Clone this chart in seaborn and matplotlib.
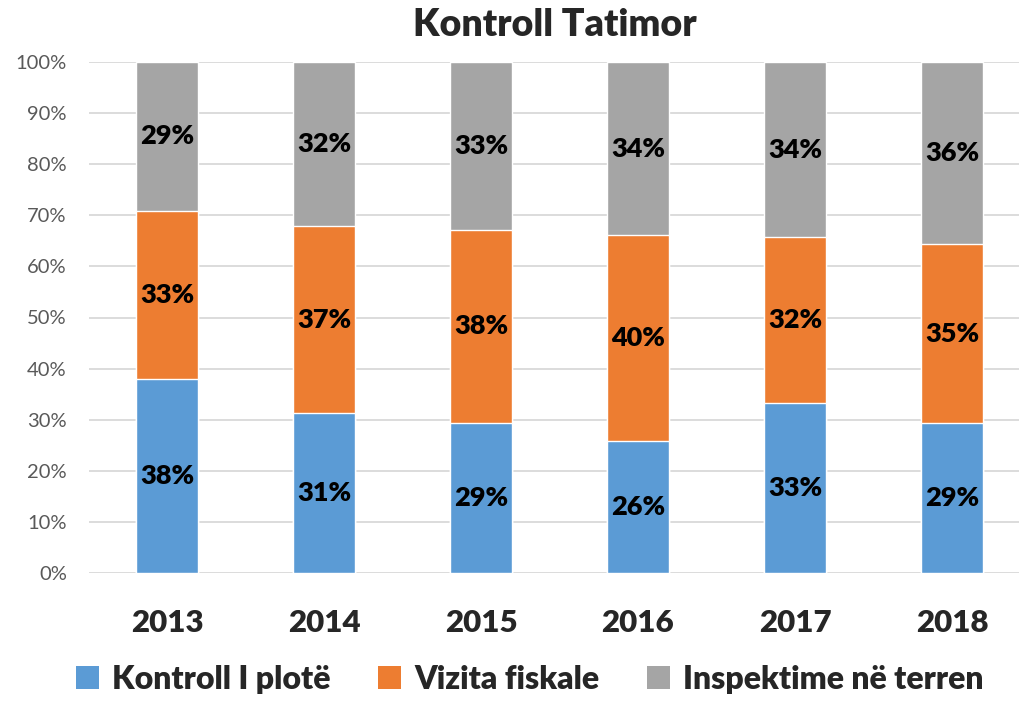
import numpy as np
import pandas as pd
import matplotlib
matplotlib.use("Agg")
import matplotlib.pyplot as plt
import seaborn as sns
from matplotlib.ticker import PercentFormatter
from matplotlib.patches import Patch

# shares per year (percent)
years = ["2013", "2014", "2015", "2016", "2017", "2018"]
kontroll = [38.0, 31.3, 29.4, 25.8, 33.3, 29.4]
vizita = [32.9, 36.6, 37.7, 40.3, 32.4, 34.9]
inspektime = [29.1, 32.1, 32.9, 33.9, 34.3, 35.7]

series_names = ["Kontroll I plotë", "Vizita fiskale", "Inspektime në terren"]
colors = ["#5B9BD5", "#ED7D31", "#A5A5A5"]

sns.set_theme(style="white")
plt.rcParams["font.family"] = ["Lato", "DejaVu Sans"]

df = pd.DataFrame({"year": years, "k": kontroll, "v": vizita, "i": inspektime})
df["kv"] = df["k"] + df["v"]
df["kvi"] = df["kv"] + df["i"]

fig = plt.figure(figsize=(10.19, 7.07), dpi=100)
ax = fig.add_axes([89 / 1019, 134 / 707, 930 / 1019, 511 / 707])

bw = 0.395
# draw cumulative totals back to front to get the stacked look
sns.barplot(data=df, x="year", y="kvi", color=colors[2], width=bw, saturation=1, ax=ax, zorder=2)
sns.barplot(data=df, x="year", y="kv", color=colors[1], width=bw, saturation=1, ax=ax, zorder=3)
sns.barplot(data=df, x="year", y="k", color=colors[0], width=bw, saturation=1, ax=ax, zorder=4)

HEAVY = 800

# segment labels
for i in range(len(years)):
    bottoms = [0, kontroll[i], kontroll[i] + vizita[i]]
    vals = [kontroll[i], vizita[i], inspektime[i]]
    for b, v in zip(bottoms, vals):
        ax.text(i, b + v / 2, f"{round(v):.0f}%", ha="center", va="center",
                fontsize=19.5, fontweight=HEAVY, color="black", zorder=5)

ax.set_ylim(0, 100)
ax.set_xlim(-0.497, 5.427)
ax.set_yticks(np.arange(0, 101, 10))
ax.yaxis.set_major_formatter(PercentFormatter(decimals=0))
ax.grid(axis="y", color="#D9D9D9", linewidth=1.3, zorder=0)
ax.set_axisbelow(True)
for s in ax.spines.values():
    s.set_visible(False)
ax.tick_params(axis="y", labelsize=14.5, labelcolor="#595959", length=0, pad=16)
ax.tick_params(axis="x", labelsize=22.5, length=0, pad=26)
for t in ax.get_xticklabels():
    t.set_fontweight(HEAVY)
ax.set_xlabel("")
ax.set_ylabel("")

fig.suptitle("Kontroll Tatimor", fontsize=27, fontweight=HEAVY, x=0.544, y=0.988)

handles = [Patch(facecolor=c, edgecolor="none") for c in colors]
fig.legend(handles, series_names, loc="lower center", ncol=3, frameon=False,
           bbox_to_anchor=(0.52, -0.022), prop={"size": 23, "weight": HEAVY},
           handlelength=0.72, handleheight=0.72, handletextpad=0.4, columnspacing=1.5)

fig.savefig("out.png", dpi=100)
